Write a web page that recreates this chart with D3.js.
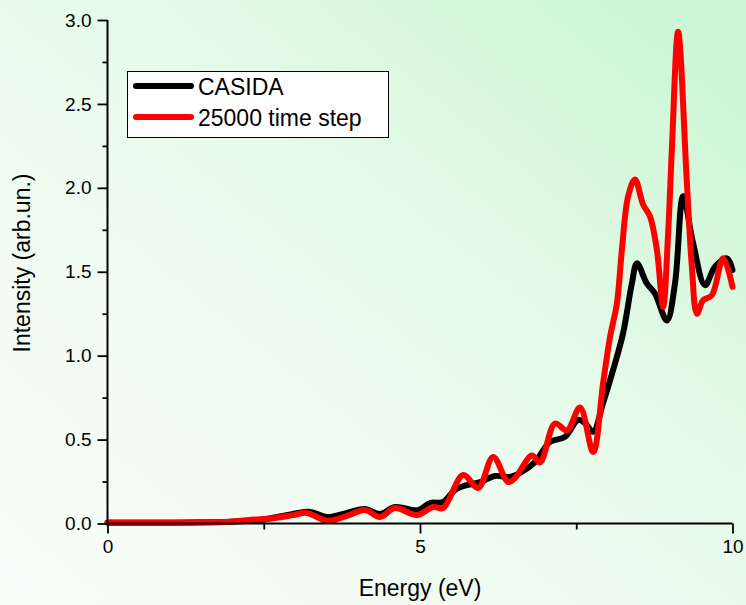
<!DOCTYPE html>
<html><head><meta charset="utf-8">
<script src="https://cdn.jsdelivr.net/npm/d3@7/dist/d3.min.js"></script>
<style>html,body{margin:0;padding:0;background:#fff;}svg{display:block;font-family:"Liberation Sans",Arial,sans-serif;}</style>
</head><body>
<svg id="c" width="746" height="605"></svg>
<script>
// ---- data ----
const seriesNames = ["CASIDA", "25000 time step"];
const seriesColors = ["#000000", "#ff0000"];
const casidaEnergy = [0, 1.0, 1.96, 2.44, 2.97, 3.24, 3.51, 3.83, 4.12, 4.36, 4.60, 4.97, 5.16, 5.37, 5.56, 5.75, 5.96, 6.20, 6.44, 6.60, 6.84, 7.08, 7.32, 7.53, 7.64, 7.77, 7.93, 8.09, 8.25, 8.39, 8.47, 8.63, 8.76, 8.95, 9.08, 9.21, 9.37, 9.56, 9.72, 9.91, 10.0];
const casidaIntensity = [0.005, 0.005, 0.01, 0.02, 0.057, 0.069, 0.039, 0.063, 0.086, 0.057, 0.098, 0.080, 0.122, 0.128, 0.200, 0.229, 0.246, 0.283, 0.277, 0.301, 0.366, 0.486, 0.516, 0.617, 0.599, 0.546, 0.719, 0.915, 1.135, 1.43, 1.55, 1.43, 1.37, 1.21, 1.43, 1.95, 1.67, 1.42, 1.53, 1.58, 1.51];
const tdEnergy = [0, 1.0, 1.96, 2.23, 2.6, 2.97, 3.19, 3.51, 3.83, 4.12, 4.36, 4.60, 4.95, 5.21, 5.37, 5.69, 5.93, 6.17, 6.41, 6.52, 6.79, 6.92, 7.16, 7.35, 7.56, 7.77, 7.93, 8.04, 8.15, 8.23, 8.33, 8.44, 8.57, 8.68, 8.79, 8.89, 8.97, 9.03, 9.13, 9.27, 9.35, 9.43, 9.53, 9.67, 9.85, 10.0];
const tdIntensity = [0.006, 0.006, 0.01, 0.02, 0.03, 0.05, 0.063, 0.016, 0.045, 0.080, 0.039, 0.092, 0.051, 0.098, 0.092, 0.289, 0.212, 0.396, 0.247, 0.271, 0.405, 0.364, 0.596, 0.554, 0.691, 0.426, 0.838, 1.11, 1.31, 1.63, 1.95, 2.05, 1.90, 1.83, 1.63, 1.29, 1.73, 2.23, 2.93, 2.03, 1.53, 1.25, 1.33, 1.36, 1.58, 1.41];
const xTickValues = [0, 5, 10];
const xMinorTicks = [2.5, 7.5];
const yTickValues = [0, 0.5, 1.0, 1.5, 2.0, 2.5, 3.0];
const yMinorTicks = [0.25, 0.75, 1.25, 1.75, 2.25, 2.75];
const xTitle = "Energy (eV)";
const yTitle = "Intensity (arb.un.)";

const svg = d3.select("#c");
const defs = svg.append("defs");
const grad = defs.append("linearGradient").attr("id", "bg")
  .attr("x1", "0").attr("y1", "1").attr("x2", "1").attr("y2", "0");
grad.append("stop").attr("offset", "0").attr("stop-color", "#fbfdfb");
grad.append("stop").attr("offset", "0.5").attr("stop-color", "#eafbec");
grad.append("stop").attr("offset", "1").attr("stop-color", "#c8f6d2");
svg.append("rect").attr("width", 746).attr("height", 605).attr("fill", "url(#bg)");

const x = d3.scaleLinear().domain([0, 10]).range([107.5, 732.5]);
const y = d3.scaleLinear().domain([0, 3]).range([523.5, 20]);

// curves
const series = [
  {e: casidaEnergy, v: casidaIntensity},
  {e: tdEnergy, v: tdIntensity}
];
const line = d3.line().x(d => x(d[0])).y(d => y(d[1])).curve(d3.curveCatmullRom.alpha(0.5));
series.forEach((s, i) => {
  svg.append("path").datum(s.e.map((e, k) => [e, s.v[k]]))
    .attr("d", line).attr("fill", "none").attr("stroke", seriesColors[i])
    .attr("stroke-width", 6).attr("stroke-linejoin", "round").attr("stroke-linecap", "round");
});

// axes
const gx = svg.append("g").attr("transform", `translate(0,${y(0)})`)
  .call(d3.axisBottom(x).tickValues(xTickValues).tickSize(10).tickPadding(6).tickFormat(d3.format("d")));
const gxm = svg.append("g").attr("transform", `translate(0,${y(0)})`)
  .call(d3.axisBottom(x).tickValues(xMinorTicks).tickSize(6).tickFormat(""));
const gy = svg.append("g").attr("transform", `translate(${x(0)},0)`)
  .call(d3.axisLeft(y).tickValues(yTickValues).tickSize(10).tickPadding(6).tickFormat(d3.format(".1f")));
const gym = svg.append("g").attr("transform", `translate(${x(0)},0)`)
  .call(d3.axisLeft(y).tickValues(yMinorTicks).tickSize(5).tickFormat(""));
[gx, gxm, gy, gym].forEach(g => {
  g.select(".domain").attr("stroke", "#000").attr("stroke-width", 2).attr("d", null);
  g.selectAll(".tick line").attr("stroke", "#000").attr("stroke-width", 1.8);
  g.selectAll(".tick text").attr("fill", "#000").style("font-size", "19px").style("font-family", "'Liberation Sans', Arial, sans-serif");
});
gxm.select(".domain").remove();
gym.select(".domain").remove();
gx.select(".domain").attr("d", `M${x(0)},0H${x(10)}`);
gy.select(".domain").attr("d", `M0,${y(3)}V${y(0)}`);

// titles
svg.append("text").attr("x", 420).attr("y", 596).attr("text-anchor", "middle")
  .style("font-size", "23px").attr("fill", "#000").text(xTitle);
svg.append("text").attr("transform", "translate(30,263) rotate(-90)").attr("text-anchor", "middle")
  .style("font-size", "23px").attr("fill", "#000").text(yTitle);

// legend
const lg = svg.append("g");
lg.append("rect").attr("x", 127.5).attr("y", 71.5).attr("width", 261).attr("height", 66)
  .attr("fill", "#fff").attr("stroke", "#000").attr("stroke-width", 1);
seriesNames.forEach((n, i) => {
  const yy = 86 + i * 31;
  lg.append("line").attr("x1", 136).attr("x2", 191).attr("y1", yy).attr("y2", yy)
    .attr("stroke", seriesColors[i]).attr("stroke-width", 6).attr("stroke-linecap", "round");
  lg.append("text").attr("x", 198).attr("y", yy + 9).style("font-size", "23px").attr("fill", "#000").text(n);
});
</script>
</body></html>
